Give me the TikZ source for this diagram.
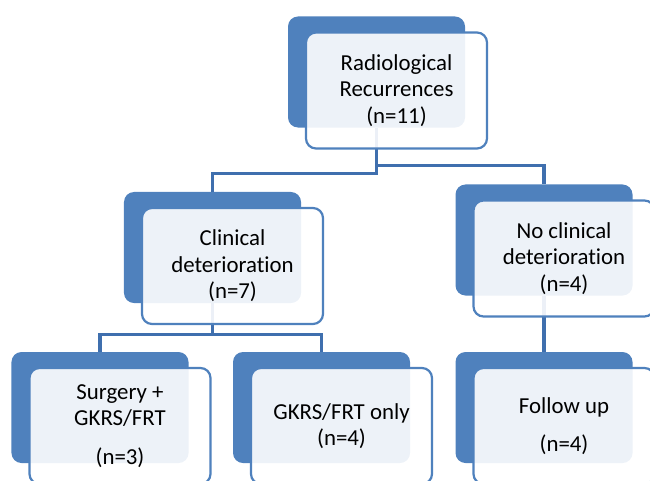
\documentclass[tikz,border=0pt]{standalone}
\usepackage{fontspec}
\setmainfont{Carlito}[Ligatures=NoCommon]
\usepackage{tikz}
\usetikzlibrary{positioning,calc}

\definecolor{smartblue}{HTML}{4F81BD}
\definecolor{linkblue}{HTML}{3F6FAE}

\begin{document}
\begin{tikzpicture}[x=0.03cm,y=-0.03cm,
  backbox/.style={fill=smartblue,rounded corners=0.3cm,minimum width=5.31cm,minimum height=3.33cm,inner sep=0pt},
  frontbox/.style={draw=smartblue,line width=1.9pt,fill=white,fill opacity=0.9,text opacity=1,rounded corners=0.3cm,
    minimum width=5.43cm,minimum height=3.48cm,align=center,font=\fontsize{19.5}{22.5}\selectfont,text=black},
  link/.style={draw=linkblue,line width=2.6pt}]
\useasboundingbox (0,0) rectangle (650,480);
\clip (0,0) rectangle (650,480);

% Back boxes
\node[backbox] (rad) at (376.5,72) {};
\node[backbox] (clin) at (212.5,247.5) {};
\node[backbox] (noclin) at (544,240) {};
\node[backbox] (surg) at (100,407.5) {};
\node[backbox] (gkrs) at (321.5,407.5) {};
\node[backbox] (follow) at (544,407.5) {};

% Connectors
\draw[link] (rad.south) -- ++(0,46) -| (clin.north);
\draw[link] (rad.south) -- ++(0,38) -| (noclin.north);
\draw[link] (clin.south) -- ++(0,31) -| (surg.north);
\draw[link] (clin.south) -- ++(0,31) -| (gkrs.north);
\draw[link] (noclin.south) -- (follow.north);

% Front boxes with the text
\node[frontbox] (radtext) at ($(rad)+(20,18.5)$) {Radiological\\Recurrences\\(n=11)};
\node[frontbox] (clintext) at ($(clin)+(20,18.5)$) {Clinical\\deterioration\\(n=7)};
\node[frontbox] (noclintext) at ($(noclin)+(20,18.5)$) {No clinical\\deterioration\\(n=4)};
\node[frontbox] (surgtext) at ($(surg)+(20,18.5)$) {Surgery +\\GKRS/FRT\\[10pt](n=3)};
\node[frontbox] (gkrstext) at ($(gkrs)+(20,18.5)$) {GKRS/FRT only\\(n=4)};
\node[frontbox] (followtext) at ($(follow)+(20,18.5)$) {Follow up\\[10pt](n=4)};
\end{tikzpicture}
\end{document}
